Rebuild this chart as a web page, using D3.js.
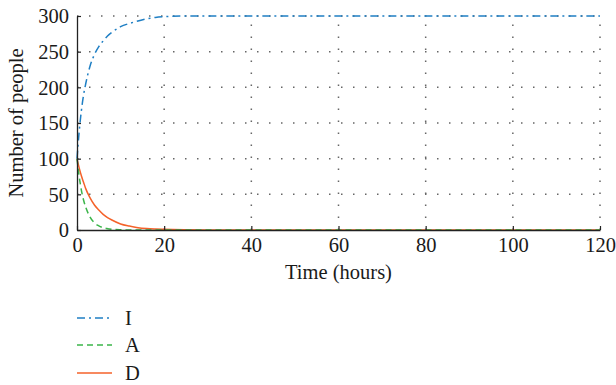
<!DOCTYPE html>
<html><head><meta charset="utf-8">
<script src="https://cdn.jsdelivr.net/npm/d3@7"></script>
<style>body{margin:0;background:#fff}svg{display:block}</style>
</head><body><svg id="c" width="616" height="385"></svg>
<script>
const times = [0,0.5,1,1.5,2,3,4,5,6,7,8,10,12,14,16,18,20,25,30,40,60,80,100,120];
const seriesI = [100,138,167,189,205,230,246,257,265,272,277,285,289.5,293,296,298,299,300,300,300,300,300,300,300];
const seriesA = [100,75,56,42,32,18,10,5.8,3.3,1.9,1.0,0.3,0.1,0,0,0,0,0,0,0,0,0,0,0];
const seriesD = [100,87,76,67,58,45,35,28,22,17.5,14,8.5,5.5,3.3,2.1,1.4,0.9,0.3,0.1,0,0,0,0,0];
const xTicks = [0,20,40,60,80,100,120];
const yTicks = [0,50,100,150,200,250,300];
const legendLabels = ["I","A","D"];

const font = "'Liberation Serif','DejaVu Serif',serif";
const fs = 20.5;
const svg = d3.select("#c");
const m = {l:77, r:600, t:16, b:230};
const x = d3.scaleLinear().domain([0,120]).range([m.l, m.r]);
const y = d3.scaleLinear().domain([0,300]).range([m.b, m.t]);

// grid
const g = svg.append("g");
g.selectAll(".gx").data(xTicks.slice(1)).enter().append("line")
  .attr("x1", d=>x(d)).attr("x2", d=>x(d)).attr("y1", m.b).attr("y2", m.t)
  .attr("stroke","#666").attr("stroke-width",1.5).attr("stroke-dasharray","1.5,10.5");
g.selectAll(".gy").data(yTicks.slice(1)).enter().append("line")
  .attr("y1", d=>y(d)).attr("y2", d=>y(d)).attr("x1", m.l).attr("x2", m.r)
  .attr("stroke","#666").attr("stroke-width",1.5).attr("stroke-dasharray","1.5,10.5");

const series = [
  {name:"I", vals:seriesI, color:"#1f7fc4", dash:"8,4,2,4"},
  {name:"A", vals:seriesA, color:"#3bb54a", dash:"6,4"},
  {name:"D", vals:seriesD, color:"#f4622a", dash:null}
];
const line = d3.line().x((d,i)=>x(times[i])).y(d=>y(d)).curve(d3.curveMonotoneX);
[series[2], series[1], series[0]].forEach(s=>{
  svg.append("path").datum(s.vals).attr("d", line)
    .attr("fill","none").attr("stroke", s.color).attr("stroke-width",1.5)
    .attr("stroke-dasharray", s.dash);
});

// axes
const xAxis = d3.axisBottom(x).tickValues(xTicks).tickSizeInner(-4).tickSizeOuter(0).tickPadding(7);
const yAxis = d3.axisLeft(y).tickValues(yTicks).tickSizeInner(-4).tickSizeOuter(0).tickPadding(8);
const gx = svg.append("g").attr("transform",`translate(0,${m.b})`).call(xAxis);
const gy = svg.append("g").attr("transform",`translate(${m.l},0)`).call(yAxis);
[gx,gy].forEach(a=>{
  a.select(".domain").attr("stroke","#222").attr("stroke-width",1.3);
  a.selectAll(".tick line").attr("stroke","#222").attr("stroke-width",1.2);
  a.selectAll("text").attr("font-family",font).attr("font-size",fs).attr("fill","#1a1a1a");
});
gy.selectAll("text").attr("dy","0.33em");

svg.append("text").attr("x",(m.l+m.r)/2).attr("y",279).attr("text-anchor","middle")
  .attr("font-family",font).attr("font-size",fs).attr("fill","#1a1a1a").text("Time (hours)");
svg.append("text").attr("transform",`translate(23,${(m.t+m.b)/2}) rotate(-90)`).attr("text-anchor","middle")
  .attr("font-family",font).attr("font-size",fs).attr("fill","#1a1a1a").text("Number of people");

// legend
const legY = [318,345,373];
series.forEach((s,i)=>{
  svg.append("line").attr("x1",77).attr("x2",112).attr("y1",legY[i]).attr("y2",legY[i])
    .attr("stroke",s.color).attr("stroke-width",1.5).attr("stroke-dasharray",s.dash);
  svg.append("text").attr("x",125).attr("y",legY[i]).attr("dy","0.35em")
    .attr("font-family",font).attr("font-size",fs).attr("fill","#1a1a1a").text(legendLabels[i]);
});
</script></body></html>
